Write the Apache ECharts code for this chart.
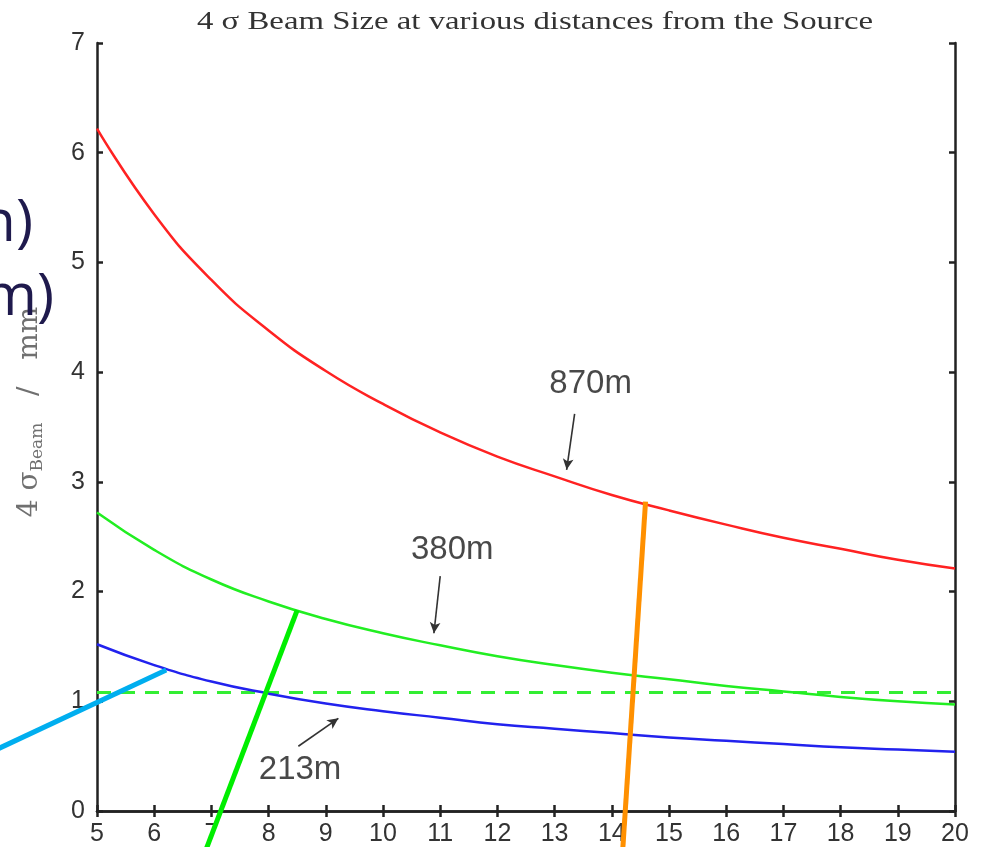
<!DOCTYPE html>
<html>
<head>
<meta charset="utf-8">
<script src="https://cdn.jsdelivr.net/npm/echarts@6/dist/echarts.min.js"></script>
<style>html,body{margin:0;padding:0;background:#fff;}#c{width:987px;height:847px;}</style>
</head>
<body>
<div id="c"></div>
<script>
// distance from source (x axis)
const xValues = [5, 6, 7, 8, 9, 10, 11, 12, 13, 14, 15, 16, 17, 18, 19, 20];
// 4 sigma beam size (mm)
const beam870 = [6.22, 5.44, 4.84, 4.38, 4.01, 3.71, 3.45, 3.23, 3.05, 2.88, 2.74, 2.61, 2.49, 2.39, 2.29, 2.21];
const beam380 = [2.72, 2.38, 2.11, 1.91, 1.75, 1.62, 1.51, 1.41, 1.33, 1.26, 1.20, 1.14, 1.09, 1.04, 1.00, 0.97];
const beam213 = [1.52, 1.33, 1.18, 1.07, 0.98, 0.91, 0.85, 0.79, 0.75, 0.71, 0.67, 0.64, 0.61, 0.58, 0.56, 0.54];
const thresholdLevel = 1.08;
const xRange = [5, 20];
const yRange = [0, 7];
const titleText = '4 \u03c3 Beam Size at various distances from the Source';
const curveLabels = ['870m', '380m', '213m'];

// annotation placements (data coordinates)
const labelPos = [[13.63, 3.89], [11.21, 2.38], [8.55, 0.37]];
const arrowPos = [
  [[13.35, 3.62], [13.21, 3.11]],
  [[11.00, 2.14], [10.89, 1.62]],
  [[8.52, 0.59], [9.22, 0.845]]
];
// overlay pointer lines of the slide (data coordinates)
const cyanPointer = [[3.20, 0.55], [6.21, 1.285]];
const greenPointer = [[6.90, -0.36], [8.50, 1.83]];
const orangePointer = [[14.19, -0.36], [14.59, 2.82]];

const pairs = (ys) => xValues.map((x, i) => [x, ys[i]]);
const sans = '"Liberation Sans", Arial, sans-serif';
const serif = '"DejaVu Serif", "Liberation Serif", serif';

const chart = echarts.init(document.getElementById('c'), null, {renderer: 'canvas'});

const axisLine = {show: true, lineStyle: {color: '#222', width: 2.5}};
const axisTick = {show: true, inside: true, length: 6, lineStyle: {color: '#222', width: 2.5}};

// title width fit
const mc = document.createElement('canvas').getContext('2d');
const titleFont = 'normal 25px "Liberation Serif"';
mc.font = titleFont;
const titleScale = 676 / mc.measureText(titleText).width;

chart.setOption({
  animation: false,
  backgroundColor: '#fff',
  grid: {left: 97, right: 32, top: 43, bottom: 36, containLabel: false},
  xAxis: [
    {type: 'value', min: xRange[0], max: xRange[1], interval: 1, position: 'bottom',
     axisLine, axisTick, splitLine: {show: false},
     axisLabel: {margin: 11, fontSize: 25, color: '#333', fontFamily: sans}},
    {type: 'value', min: xRange[0], max: xRange[1], interval: 1, position: 'top',
     axisLine, axisTick, splitLine: {show: false}, axisLabel: {show: false}}
  ],
  yAxis: [
    {type: 'value', min: yRange[0], max: yRange[1], interval: 1, position: 'left',
     axisLine, axisTick, splitLine: {show: false},
     axisLabel: {margin: 12, fontSize: 25, color: '#333', fontFamily: sans}},
    {type: 'value', min: yRange[0], max: yRange[1], interval: 1, position: 'right',
     axisLine, axisTick, splitLine: {show: false}, axisLabel: {show: false}}
  ],
  series: [
    {type: 'line', name: '870m', data: pairs(beam870), smooth: true, symbol: 'none',
     lineStyle: {color: '#ff2222', width: 2.5}, z: 3},
    {type: 'line', name: '380m', data: pairs(beam380), smooth: true, symbol: 'none',
     lineStyle: {color: '#22ee22', width: 2.5}, z: 3},
    {type: 'line', name: '213m', data: pairs(beam213), smooth: true, symbol: 'none',
     lineStyle: {color: '#2222ee', width: 2.5}, z: 3},
    {type: 'line', name: 'threshold', data: [[xRange[0], thresholdLevel], [xRange[1], thresholdLevel]],
     symbol: 'none', lineStyle: {color: '#33ee33', width: 3, type: [14, 10]}, z: 2},
    {type: 'scatter', name: 'labels', symbolSize: 0, silent: true,
     data: curveLabels.map((t, i) => ({name: t, value: labelPos[i]})),
     label: {show: true, position: 'inside', formatter: '{b}', fontSize: 33, color: '#1a1a1a', fontFamily: sans}},
    {type: 'line', name: 'arrows', data: [], silent: true,
     markLine: {silent: true, symbol: ['none', 'arrow'], symbolSize: [8, 11],
       label: {show: false},
       lineStyle: {color: '#333', width: 1.6, type: 'solid'},
       data: arrowPos.map(a => [{coord: a[0]}, {coord: a[1]}])}}
  ]
});

const px = (p) => chart.convertToPixel({gridIndex: 0}, p);
const pointerLine = (pts, color) => {
  const a = px(pts[0]), b = px(pts[1]);
  return {type: 'line', z: 40, silent: true,
    shape: {x1: a[0], y1: a[1], x2: b[0], y2: b[1]},
    style: {stroke: color, lineWidth: 5, lineCap: 'butt'}};
};

chart.setOption({
  graphic: [
    {type: 'text', x: 535, y: 22, scaleX: titleScale, z: 5,
     style: {text: titleText, align: 'center', verticalAlign: 'middle',
       font: titleFont, fill: '#333'}},
    {type: 'text', x: 30, y: 412, rotation: Math.PI / 2, z: 5,
     style: {text: '4 \u03c3{sub|Beam}   /   mm', align: 'center', verticalAlign: 'middle',
       fontFamily: serif, fontSize: 28, fill: '#707070',
       rich: {sub: {fontSize: 17, fontFamily: serif, fill: '#707070', verticalAlign: 'bottom', padding: [15, 0, 0, 0]}}}},
    pointerLine(cyanPointer, '#00aeef'),
    pointerLine(greenPointer, '#00ee00'),
    pointerLine(orangePointer, '#ff9000'),
    {type: 'text', x: 33, y: 195, z: 50,
     style: {text: 'n)', align: 'right', verticalAlign: 'top', fontFamily: '"Open Sans", "Noto Sans", sans-serif', fontSize: 58, fill: '#1f1a4d'}},
    {type: 'text', x: 54, y: 269, z: 50,
     style: {text: 'm)', align: 'right', verticalAlign: 'top', fontFamily: '"Open Sans", "Noto Sans", sans-serif', fontSize: 58, fill: '#1f1a4d'}},
    {type: 'rect', shape: {x: 973, y: 815, width: 20, height: 40}, style: {fill: '#fff'}, z: 30}
  ]
});
</script>
</body>
</html>
